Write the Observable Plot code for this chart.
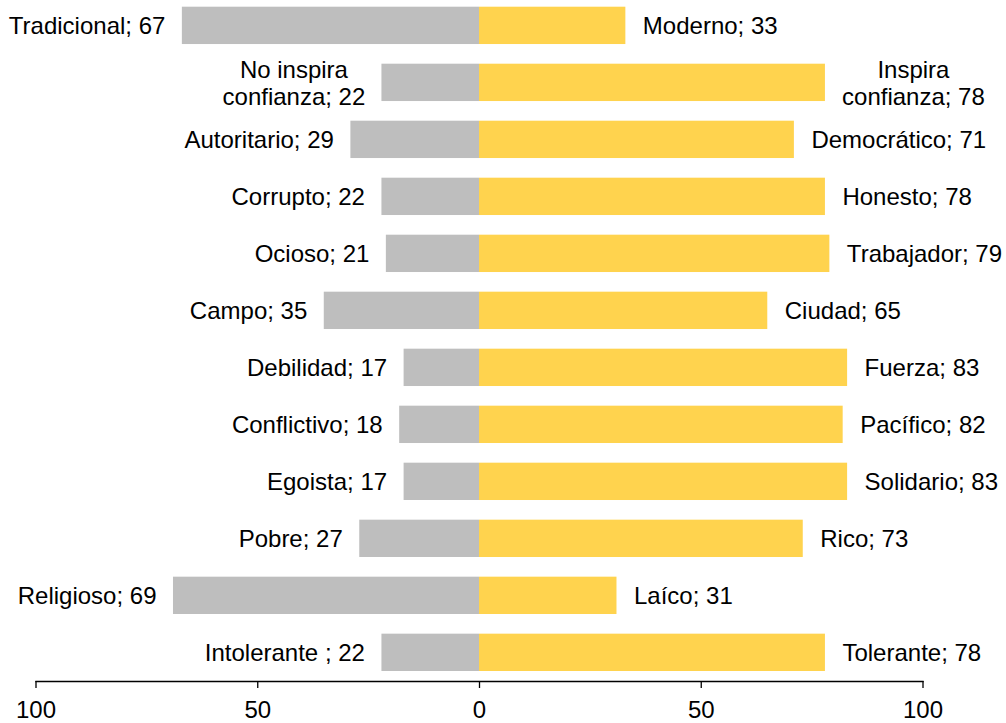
<!DOCTYPE html>
<html><head><meta charset="utf-8">
<script src="https://cdn.jsdelivr.net/npm/d3@7"></script>
<script src="https://cdn.jsdelivr.net/npm/@observablehq/plot@0.6"></script>
<style>html,body{margin:0;padding:0;background:#fff} svg{display:block}</style>
</head><body><div id="chart"></div>
<script>
const leftLabels = ["Tradicional", "No inspira\nconfianza", "Autoritario", "Corrupto", "Ocioso", "Campo", "Debilidad", "Conflictivo", "Egoista", "Pobre", "Religioso", "Intolerante "];
const leftValues = [67, 22, 29, 22, 21, 35, 17, 18, 17, 27, 69, 22];
const rightLabels = ["Moderno", "Inspira\nconfianza", "Democrático", "Honesto", "Trabajador", "Ciudad", "Fuerza", "Pacífico", "Solidario", "Rico", "Laíco", "Tolerante"];
const rightValues = [33, 78, 71, 78, 79, 65, 83, 82, 83, 73, 31, 78];
const axisTicks = [-100, -50, 0, 50, 100];

const rows = leftLabels.map((l, i) => ({
  row: i,
  left: l, lv: leftValues[i], ltext: `${l}; ${leftValues[i]}`,
  right: rightLabels[i], rv: rightValues[i], rtext: `${rightLabels[i]}; ${rightValues[i]}`
}));
const GRAY = "#bebebe", YELLOW = "#ffd34e";
const FS = 24;
const multi = s => s.includes("\n");

const chart = Plot.plot({
  width: 1006,
  height: 723,
  marginLeft: 35.5,
  marginRight: 83.5,
  marginTop: 0,
  marginBottom: 42,
  style: {fontFamily: "'Liberation Sans', Arial, Helvetica, sans-serif", fontSize: FS + "px", color: "#000", background: "#fff"},
  x: {domain: [-100, 100], label: null},
  y: {type: "band", domain: rows.map(r => r.row), range: [6.7, 671], paddingInner: 0.345, paddingOuter: 0, round: false, axis: null},
  marks: [
    Plot.barX(rows, {y: "row", x1: 0, x2: d => -d.lv, fill: GRAY}),
    Plot.barX(rows, {y: "row", x1: 0, x2: "rv", fill: YELLOW}),
    Plot.text(rows.filter(d => !multi(d.ltext)), {y: "row", x: d => -d.lv, text: "ltext", textAnchor: "end", dx: -17, fontSize: FS, fill: "#000"}),
    Plot.text(rows.filter(d => multi(d.ltext)), {y: "row", x: d => -d.lv, text: "ltext", textAnchor: "middle", dx: -88, fontSize: FS, lineHeight: 1.1, fill: "#000"}),
    Plot.text(rows.filter(d => !multi(d.rtext)), {y: "row", x: "rv", text: "rtext", textAnchor: "start", dx: 17, fontSize: FS, fill: "#000"}),
    Plot.text(rows.filter(d => multi(d.rtext)), {y: "row", x: "rv", text: "rtext", textAnchor: "middle", dx: 88, fontSize: FS, lineHeight: 1.1, fill: "#000"}),
    Plot.frame({anchor: "bottom", stroke: "#000", strokeWidth: 1.3}),
    Plot.axisX({ticks: axisTicks, tickFormat: d => Math.abs(d), tickSize: 7, tickPadding: 12, fontSize: FS, stroke: "#000", strokeWidth: 1.3, fill: "#000", label: null})
  ]
});
document.getElementById("chart").appendChild(chart);
</script>
</body></html>
